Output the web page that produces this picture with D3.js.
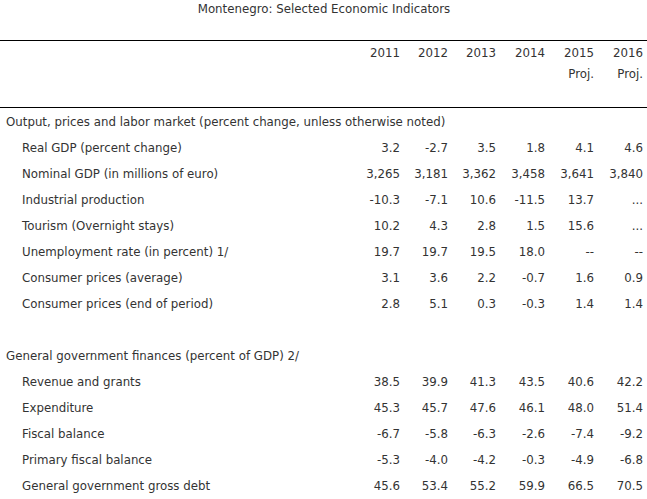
<!DOCTYPE html>
<html><head><meta charset="utf-8">
<script src="https://cdn.jsdelivr.net/npm/d3@7/dist/d3.min.js"></script>
<style>body{margin:0;background:#fff}svg{display:block}</style>
</head><body>
<script>
const title = "Montenegro: Selected Economic Indicators";
const years = ["2011","2012","2013","2014","2015","2016"];
const subHeader = ["","","","","Proj.","Proj."];
const section1 = "Output, prices and labor market (percent change, unless otherwise noted)";
const labels1 = ["Real GDP (percent change)","Nominal GDP (in millions of euro)","Industrial production","Tourism (Overnight stays)","Unemployment rate (in percent) 1/","Consumer prices (average)","Consumer prices (end of period)"];
const values1 = [
  ["3.2","-2.7","3.5","1.8","4.1","4.6"],
  ["3,265","3,181","3,362","3,458","3,641","3,840"],
  ["-10.3","-7.1","10.6","-11.5","13.7","..."],
  ["10.2","4.3","2.8","1.5","15.6","..."],
  ["19.7","19.7","19.5","18.0","--","--"],
  ["3.1","3.6","2.2","-0.7","1.6","0.9"],
  ["2.8","5.1","0.3","-0.3","1.4","1.4"]
];
const section2 = "General government finances (percent of GDP) 2/";
const labels2 = ["Revenue and grants","Expenditure","Fiscal balance","Primary fiscal balance","General government gross debt"];
const values2 = [
  ["38.5","39.9","41.3","43.5","40.6","42.2"],
  ["45.3","45.7","47.6","46.1","48.0","51.4"],
  ["-6.7","-5.8","-6.3","-2.6","-7.4","-9.2"],
  ["-5.3","-4.0","-4.2","-0.3","-4.9","-6.8"],
  ["45.6","53.4","55.2","59.9","66.5","70.5"]
];

const W = 647, H = 499;
const font = "'DejaVu Sans', Verdana, sans-serif";
const fs = 11.8;
const color = "#333";
const svg = d3.select("body").append("svg").attr("width", W).attr("height", H);

// column right edges
const x = d3.scaleOrdinal().domain(years).range([400, 448, 496, 545, 594, 643]);
// row index -> y (row height 26)
const y = d3.scaleLinear().domain([0, 1]).range([122.5, 148.5]);

function txt(xp, yp, t, anchor){
  svg.append("text").attr("x",xp).attr("y",yp).attr("text-anchor",anchor||"start")
    .attr("dominant-baseline","middle").attr("font-family",font).attr("font-size",fs).attr("fill",color).text(t);
}

txt(324, 9, title, "middle");
svg.append("line").attr("x1",0).attr("x2",W).attr("y1",40.5).attr("y2",40.5).attr("stroke","#000").attr("stroke-width",1.2);
svg.append("line").attr("x1",0).attr("x2",W).attr("y1",107.5).attr("y2",107.5).attr("stroke","#000").attr("stroke-width",1.2);

years.forEach((yr,i)=>{ txt(x(yr), 53, yr, "end"); if(subHeader[i]) txt(x(yr), 74, subHeader[i], "end"); });
txt(6, y(0), section1);
labels1.forEach((l,i)=>{ txt(22, y(i+1), l); values1[i].forEach((v,j)=>txt(x(years[j]), y(i+1), v, "end")); });
const off2 = labels1.length + 2;
txt(6, y(off2), section2);
labels2.forEach((l,i)=>{ txt(22, y(off2+i+1), l); values2[i].forEach((v,j)=>txt(x(years[j]), y(off2+i+1), v, "end")); });
</script>
</body></html>
